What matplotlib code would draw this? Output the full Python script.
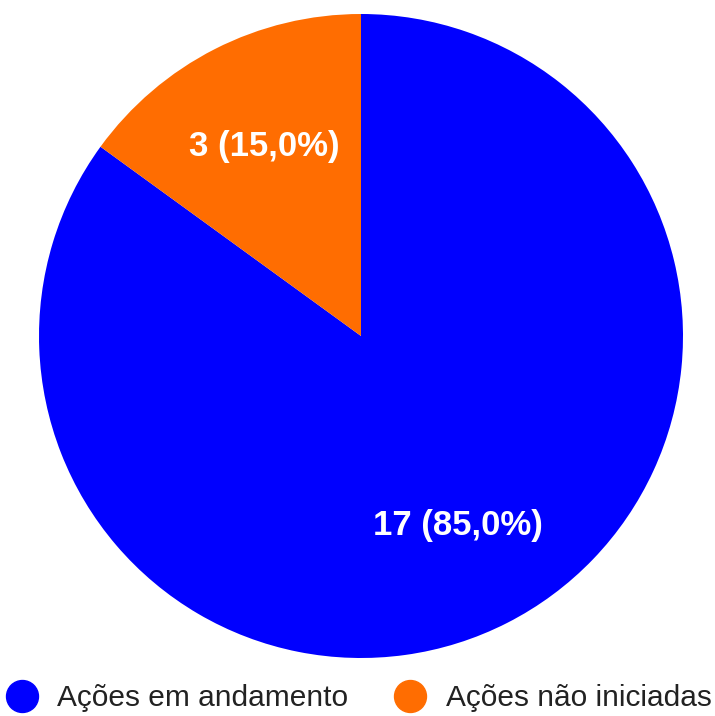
import matplotlib.pyplot as plt
from matplotlib.lines import Line2D

labels = ["Ações em andamento", "Ações não iniciadas"]
values = [17, 3]
colors = ["#0000ff", "#ff6d01"]

total = sum(values)


def fmt(pct):
    n = int(round(pct * total / 100.0))
    return f"{n} ({pct:.1f}%)".replace(".", ",")


fig = plt.figure(figsize=(7.15, 7.16), dpi=100)
ax = fig.add_axes([39 / 715, (716 - 658) / 716, 644 / 715, 644 / 716])

wedges, texts, autotexts = ax.pie(
    values, colors=colors, startangle=90, counterclock=False,
    autopct=fmt, pctdistance=0.66, radius=1.0,
    wedgeprops=dict(linewidth=0),
    textprops=dict(color="white", fontsize=25, fontweight="bold",
                   family="Liberation Sans"),
)
ax.set_xlim(-1, 1)
ax.set_ylim(-1, 1)
ax.set_aspect("equal")
ax.axis("off")

handles = [Line2D([], [], marker="o", linestyle="", markersize=23,
                  markerfacecolor=c, markeredgecolor=c) for c in colors]
leg = fig.legend(handles, labels, loc="center", bbox_to_anchor=(0.5, 1 - 698 / 716),
                 ncol=2, frameon=False, handlelength=1.2, handletextpad=0.6,
                 columnspacing=1.45, borderpad=0, borderaxespad=0,
                 prop=dict(family="Liberation Sans", size=21.5))
for t in leg.get_texts():
    t.set_color("#222222")

fig.savefig("out.png", dpi=100)
